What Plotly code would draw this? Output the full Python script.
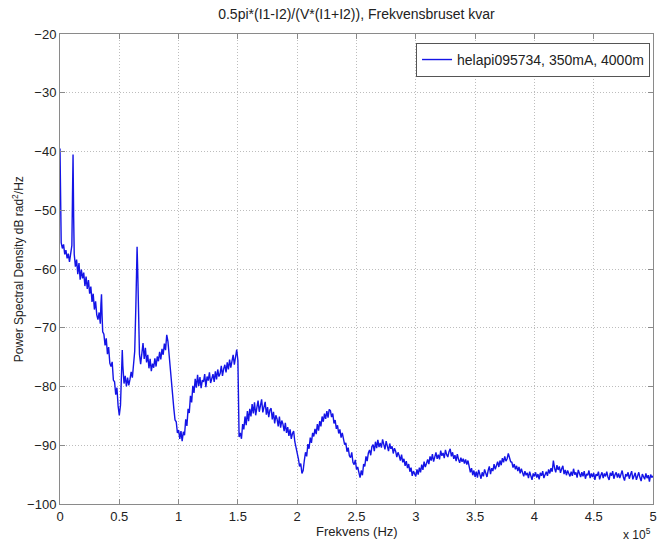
import plotly.graph_objects as go

# Frequency axis in units of 1e5 Hz, PSD in dB rad^2/Hz
freq = [
    0.000, 0.003, 0.006, 0.01, 0.02, 0.03, 0.04, 0.05, 0.06, 0.07, 0.08, 0.09, 0.10, 0.105, 0.11, 0.115, 0.12,
    0.13, 0.14, 0.15, 0.16, 0.17, 0.18, 0.19, 0.20, 0.21, 0.22, 0.23, 0.24, 0.25, 0.26, 0.27, 0.28, 0.29, 0.30,
    0.31, 0.32, 0.33, 0.34, 0.345, 0.35, 0.355,
    0.36, 0.37, 0.38, 0.39, 0.40, 0.41, 0.42, 0.43, 0.44, 0.45, 0.46, 0.47, 0.48, 0.49, 0.50, 0.51, 0.52, 0.525,
    0.53, 0.54, 0.55, 0.56, 0.57, 0.58, 0.59, 0.60, 0.61, 0.62, 0.63, 0.64, 0.645, 0.65, 0.655,
    0.66, 0.67, 0.68, 0.69, 0.70, 0.71, 0.72, 0.73, 0.74, 0.75,
    0.76, 0.77, 0.78, 0.79, 0.80, 0.81, 0.82, 0.83, 0.84, 0.85,
    0.86, 0.87, 0.88, 0.89, 0.90, 0.91, 0.92, 0.93, 0.94, 0.95,
    0.96, 0.97, 0.98, 0.99, 1.00, 1.01, 1.02, 1.03, 1.04, 1.05,
    1.06, 1.07, 1.08, 1.09, 1.10, 1.11, 1.12, 1.13, 1.14, 1.15,
    1.16, 1.17, 1.18, 1.19, 1.20, 1.21, 1.22, 1.23, 1.24, 1.25,
    1.26, 1.27, 1.28, 1.29, 1.30, 1.31, 1.32, 1.33, 1.34, 1.35,
    1.36, 1.37, 1.38, 1.39, 1.40, 1.41, 1.42, 1.43, 1.44, 1.45,
    1.46, 1.47, 1.48, 1.49, 1.50, 1.505,
    1.51, 1.52, 1.53, 1.54, 1.55, 1.56, 1.57, 1.58, 1.59, 1.60,
    1.61, 1.62, 1.63, 1.64, 1.65, 1.66, 1.67, 1.68, 1.69, 1.70,
    1.71, 1.72, 1.73, 1.74, 1.75, 1.76, 1.77, 1.78, 1.79, 1.80,
    1.81, 1.82, 1.83, 1.84, 1.85, 1.86, 1.87, 1.88, 1.89, 1.90,
    1.91, 1.92, 1.93, 1.94, 1.95, 1.96, 1.97, 1.98, 1.99, 2.00,
    2.01, 2.02, 2.03, 2.04, 2.05, 2.06, 2.07, 2.08, 2.09, 2.10,
    2.11, 2.12, 2.13, 2.14, 2.15, 2.16, 2.17, 2.18, 2.19, 2.20,
    2.21, 2.22, 2.23, 2.24, 2.25, 2.26, 2.27, 2.28, 2.29, 2.30,
    2.31, 2.32, 2.33, 2.34, 2.35, 2.36, 2.37, 2.38, 2.39, 2.40,
    2.41, 2.42, 2.43, 2.44, 2.45, 2.46, 2.47, 2.48, 2.49, 2.50,
    2.51, 2.52, 2.53, 2.54, 2.55, 2.56, 2.57, 2.58, 2.59, 2.60,
    2.61, 2.62, 2.63, 2.64, 2.65, 2.66, 2.67, 2.68, 2.69, 2.70,
    2.71, 2.72, 2.73, 2.74, 2.75, 2.76, 2.77, 2.78, 2.79, 2.80,
    2.81, 2.82, 2.83, 2.84, 2.85, 2.86, 2.87, 2.88, 2.89, 2.90,
    2.91, 2.92, 2.93, 2.94, 2.95, 2.96, 2.97, 2.98, 2.99, 3.00,
    3.01, 3.02, 3.03, 3.04, 3.05, 3.06, 3.07, 3.08, 3.09, 3.10,
    3.11, 3.12, 3.13, 3.14, 3.15, 3.16, 3.17, 3.18, 3.19, 3.20,
    3.21, 3.22, 3.23, 3.24, 3.25, 3.26, 3.27, 3.28, 3.29, 3.30,
    3.31, 3.32, 3.33, 3.34, 3.35, 3.36, 3.37, 3.38, 3.39, 3.40,
    3.41, 3.42, 3.43, 3.44, 3.45, 3.46, 3.47, 3.48, 3.49, 3.50,
    3.51, 3.52, 3.53, 3.54, 3.55, 3.56, 3.57, 3.58, 3.59, 3.60,
    3.61, 3.62, 3.63, 3.64, 3.65, 3.66, 3.67, 3.68, 3.69, 3.70,
    3.71, 3.72, 3.73, 3.74, 3.75, 3.76, 3.77, 3.78, 3.79, 3.80,
    3.81, 3.82, 3.83, 3.84, 3.85, 3.86, 3.87, 3.88, 3.89, 3.90,
    3.91, 3.92, 3.93, 3.94, 3.95, 3.96, 3.97, 3.98, 3.99, 4.00,
    4.01, 4.02, 4.03, 4.04, 4.05, 4.06, 4.07, 4.08, 4.09, 4.10,
    4.11, 4.12, 4.13, 4.14, 4.15, 4.16, 4.17, 4.18, 4.19, 4.20,
    4.21, 4.22, 4.23, 4.24, 4.25, 4.26, 4.27, 4.28, 4.29, 4.30,
    4.31, 4.32, 4.33, 4.34, 4.35, 4.36, 4.37, 4.38, 4.39, 4.40,
    4.41, 4.42, 4.43, 4.44, 4.45, 4.46, 4.47, 4.48, 4.49, 4.50,
    4.51, 4.52, 4.53, 4.54, 4.55, 4.56, 4.57, 4.58, 4.59, 4.60,
    4.61, 4.62, 4.63, 4.64, 4.65, 4.66, 4.67, 4.68, 4.69, 4.70,
    4.71, 4.72, 4.73, 4.74, 4.75, 4.76, 4.77, 4.78, 4.79, 4.80,
    4.81, 4.82, 4.83, 4.84, 4.85, 4.86, 4.87, 4.88, 4.89, 4.90,
    4.91, 4.92, 4.93, 4.94, 4.95, 4.96, 4.97, 4.98, 4.99, 5.00,
]

psd_db = [
    -39.5, -47.0, -54.5, -55.5, -56.5, -55.8, -57.5, -56.8, -58.2, -57.4, -58.8, -57.6, -56.0, -48.0, -40.5, -51.0, -57.5,
    -59.6, -58.4, -60.9, -59.0, -61.8, -60.1, -61.6, -60.6, -62.9, -61.3, -63.4, -61.9, -64.2, -63.0, -65.6, -64.2, -66.9, -65.5,
    -67.8, -68.6, -67.4, -69.3, -66.0, -64.3, -68.0,
    -70.7, -71.1, -73.0, -71.8, -74.5, -73.3, -76.0, -76.6, -75.8, -78.9, -79.2, -81.4, -80.2, -83.3, -84.9, -83.2, -78.0, -73.8,
    -76.5, -79.5, -78.2, -80.0, -78.5, -79.8, -78.8, -77.5, -78.5, -76.5, -74.0, -66.0, -58.0, -56.2, -60.0,
    -68.0, -74.5, -76.2, -74.0, -72.6, -75.3, -73.4, -75.9, -74.6, -76.9,
    -75.3, -77.4, -76.1, -76.8, -75.2, -76.6, -74.9, -75.7, -74.1, -75.4,
    -73.6, -74.6, -72.7, -73.8, -71.2, -72.3, -74.6, -77.4, -79.8, -82.6,
    -83.8, -85.7, -86.0, -87.9, -87.4, -88.9, -87.6, -89.3, -87.7, -88.3,
    -85.6, -86.7, -83.8, -84.5, -81.6, -82.7, -79.9, -81.1, -78.7, -80.2,
    -78.0, -79.9, -78.4, -80.3, -78.9, -79.2, -77.9, -80.1, -78.3, -79.0,
    -77.6, -79.4, -78.5, -77.9, -79.2, -77.4, -78.8, -77.1, -78.3, -77.8,
    -76.5, -78.2, -77.0, -76.3, -77.6, -75.9, -77.1, -75.4, -76.8, -75.7,
    -74.6, -76.3, -75.0, -73.7, -75.6, -82.0,
    -88.6, -87.9, -88.9, -86.4, -87.3, -85.1, -86.6, -84.2, -85.9, -83.8,
    -85.1, -83.0, -84.6, -82.7, -84.9, -83.6, -82.4, -84.3, -83.1, -82.2,
    -84.4, -83.2, -82.6, -84.8, -83.5, -85.2, -84.0, -83.7, -85.6, -84.3,
    -86.3, -84.9, -85.5, -86.8, -85.1, -87.0, -85.8, -86.4, -87.6, -86.2,
    -87.9, -86.9, -88.4, -87.3, -88.9, -88.0, -87.6, -89.4, -90.2, -91.4,
    -92.3, -93.6, -93.1, -94.8, -94.3, -92.6, -91.2, -91.9, -89.8, -90.6,
    -88.7, -89.6, -87.9, -88.5, -87.2, -88.1, -86.4, -87.5, -85.9, -86.8,
    -85.1, -86.0, -84.6, -85.5, -84.2, -85.3, -83.9, -84.1, -85.2, -84.6,
    -86.3, -85.7, -87.2, -86.6, -88.0, -87.3, -88.7, -87.9, -89.3, -89.9,
    -89.6, -91.1, -90.4, -91.8, -92.1, -91.2, -92.9, -93.3, -92.5, -94.1,
    -93.7, -94.6, -95.5, -94.3, -95.1, -93.2, -93.6, -91.9, -92.7, -91.3,
    -90.8, -91.7, -90.2, -89.9, -91.0, -89.4, -90.5, -89.1, -90.3, -89.6,
    -90.4, -89.0, -89.8, -90.7, -89.3, -90.1, -91.0, -89.7, -90.6, -90.2,
    -91.4, -90.5, -91.0, -92.0, -91.2, -91.8, -92.6, -91.6, -92.9, -92.3,
    -93.5, -92.7, -93.9, -93.2, -94.5, -93.8, -95.2, -94.4, -94.9, -95.3,
    -94.1, -95.0, -93.8, -94.6, -93.3, -94.2, -92.8, -93.7, -93.1, -92.4,
    -93.2, -91.9, -92.6, -91.5, -92.8, -92.0, -91.2, -92.3, -91.6, -92.4,
    -90.9, -91.8, -91.3, -92.2, -90.8, -91.6, -92.0, -91.1, -90.6, -91.9,
    -91.2, -92.3, -91.7, -92.7, -91.5, -92.4, -93.0, -92.1, -92.8, -92.3,
    -93.1, -92.4, -93.3, -92.6, -93.5, -94.6, -93.9, -95.1, -94.3, -95.4,
    -94.5, -95.5, -94.2, -95.0, -95.7, -94.6, -95.3, -94.1, -94.8, -95.4,
    -94.3, -93.6, -94.9, -93.9, -94.4, -93.2, -94.1, -93.5, -92.8, -93.7,
    -92.6, -93.4, -92.2, -92.9, -91.9, -92.7, -92.3, -91.4, -92.0, -92.8,
    -92.9, -93.8, -93.2, -94.1, -93.5, -94.4, -93.7, -94.8, -94.0, -94.6,
    -95.3, -94.4, -95.1, -94.7, -95.6, -94.5, -95.4, -95.9, -94.8, -95.3,
    -94.6, -95.5, -94.9, -95.8, -94.7, -95.2, -94.4, -95.6, -95.0, -94.5,
    -95.2, -94.1, -94.8, -93.9, -94.5, -92.6, -93.9, -94.6, -93.4, -94.2,
    -93.6, -94.7, -94.0, -93.5, -94.9, -94.2, -95.1, -94.3, -94.8, -95.3,
    -94.5, -95.2, -94.0, -95.0, -94.6, -95.5, -94.2, -94.9, -95.4, -94.6,
    -95.3, -94.4, -95.7, -94.9, -95.1, -94.3, -95.6, -94.8, -95.4, -94.7,
    -95.9, -94.9, -95.2, -94.5, -95.8, -95.1, -94.6, -95.6, -94.8, -95.3,
    -94.5, -95.4, -95.9, -94.7, -95.2, -94.4, -95.7, -95.0, -94.6, -95.5,
    -94.8, -95.6, -95.1, -94.3, -95.4, -96.0, -94.9, -95.3, -94.6, -95.7,
    -95.0, -94.4, -95.8, -95.2, -94.7, -95.9, -95.1, -94.6, -95.5, -96.1,
    -94.9, -95.4, -95.8, -94.8, -95.6, -95.1, -96.2, -95.0, -95.5, -95.2,
]

x_ticks = [0, 0.5, 1, 1.5, 2, 2.5, 3, 3.5, 4, 4.5, 5]
x_tick_text = ["0", "0.5", "1", "1.5", "2", "2.5", "3", "3.5", "4", "4.5", "5"]
y_ticks = [-100, -90, -80, -70, -60, -50, -40, -30, -20]

FONT = "Liberation Sans, Arial, sans-serif"
TEXT = "#222222"
AXIS_GREY = "#8a8a8a"
GRID_GREY = "#bdbdbd"

fig = go.Figure()
fig.add_trace(go.Scatter(
    x=freq, y=psd_db, mode="lines",
    name="helapi095734, 350mA, 4000m",
    line=dict(color="#1414e6", width=1.4),
))

axis_common = dict(
    showline=True, linecolor=AXIS_GREY, linewidth=1, mirror="allticks",
    ticks="inside", ticklen=5, tickcolor=AXIS_GREY,
    showgrid=True, gridcolor=GRID_GREY, griddash="1px,2px", gridwidth=1,
    zeroline=False, tickfont=dict(family=FONT, size=13, color=TEXT),
    ticklabeloverflow="allow",
)

fig.update_xaxes(range=[0, 5], tickvals=x_ticks, ticktext=x_tick_text, **axis_common)
fig.update_yaxes(range=[-100, -20], tickvals=y_ticks, **axis_common)

fig.update_layout(
    width=659, height=543,
    margin=dict(l=60, r=2, t=34, b=39),
    paper_bgcolor="white", plot_bgcolor="white",
    font=dict(family=FONT, size=12, color=TEXT),
    title=dict(text="0.5pi*(I1-I2)/(V*(I1+I2)), Frekvensbruset kvar",
               x=0.5, xref="paper", xanchor="center",
               y=1 - 14 / 543, yref="container", yanchor="middle",
               font=dict(family=FONT, size=14, color=TEXT)),
    showlegend=True,
    legend=dict(x=0.995, xanchor="right", y=0.981, yanchor="top",
                bordercolor="#555555", borderwidth=1, bgcolor="white",
                itemwidth=30, tracegroupgap=0,
                font=dict(family=FONT, size=14, color=TEXT)),
    annotations=[
        dict(text="Power Spectral Density dB rad<sup>2</sup>/Hz", textangle=-90,
             xref="paper", yref="paper", x=(18 - 60) / 597, y=0.5,
             xanchor="center", yanchor="middle", showarrow=False,
             font=dict(family=FONT, size=12, color=TEXT)),
        dict(text="Frekvens (Hz)", xref="paper", yref="paper", x=0.5, y=0,
             xanchor="center", yanchor="middle", yshift=-27, showarrow=False,
             font=dict(family=FONT, size=13, color=TEXT)),
        dict(text="x 10<sup>5</sup>", xref="paper", yref="paper", x=1, y=0,
             xanchor="right", yanchor="top", yshift=-20, showarrow=False,
             font=dict(family=FONT, size=12, color=TEXT)),
    ],
)

fig.write_html("out.html")
